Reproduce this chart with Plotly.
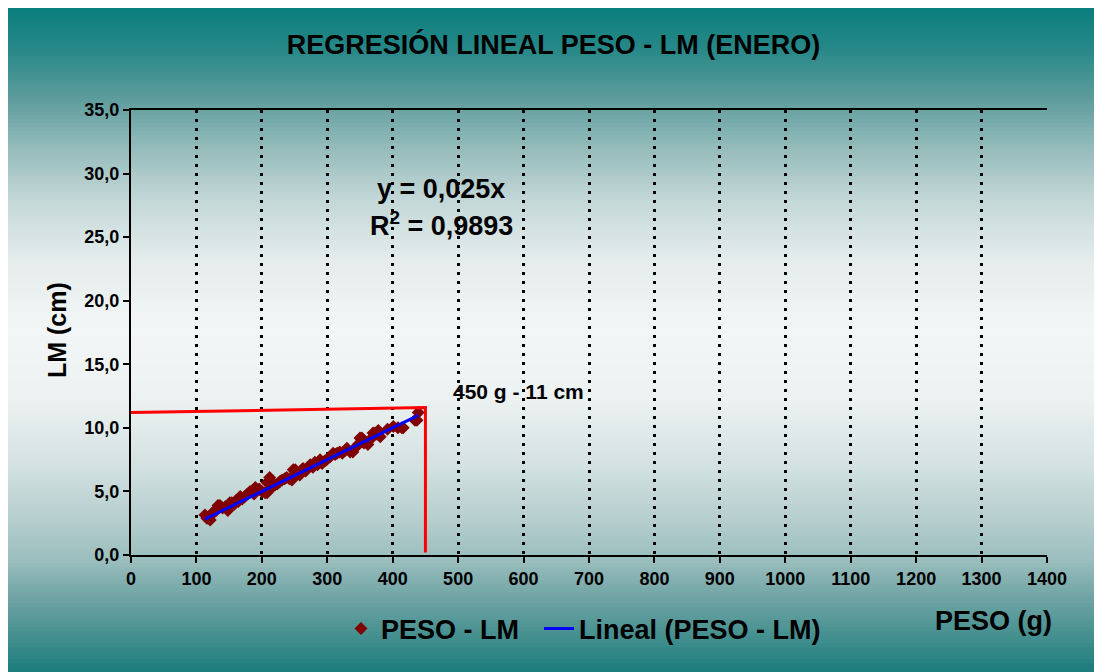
import plotly.graph_objects as go

# ---------------- data ----------------
peso = [113, 116, 118, 121, 124, 126, 130, 133, 136, 140, 144, 148, 151, 154, 158, 161,
        164, 167, 170, 174, 178, 182, 185, 188, 190, 192, 196, 200, 205, 208, 208, 212,
        215, 217, 220, 224, 228, 231, 235, 238, 242, 246, 248, 251, 255, 258, 261, 263,
        267, 270, 274, 278, 281, 285, 289, 292, 296, 299, 304, 309, 312, 315, 319, 323,
        327, 330, 335, 339, 344, 347, 350, 353, 356, 358, 362, 366, 370, 373, 376, 378,
        381, 392, 401, 408, 414, 416, 434, 437, 439]
lm = [3.15, 2.9, 2.89, 2.75, 3.2, 3.4, 3.5, 3.9, 3.9, 3.7, 3.8, 3.5, 4.1, 4.1, 4.0, 4.3,
      4.2, 4.6, 4.4, 4.6, 4.8, 5.0, 5.0, 4.8, 5.3, 5.1, 5.2, 5.0, 4.9, 4.9, 5.7, 6.1,
      5.3, 5.4, 5.5, 5.6, 5.8, 5.9, 6.0, 6.1, 6.0, 5.9, 6.7, 6.7, 6.4, 6.3, 6.7, 6.8,
      6.6, 6.9, 7.1, 6.9, 7.3, 7.1, 7.5, 7.2, 7.4, 7.5, 7.7, 8.0, 7.9, 8.0, 8.1, 8.0,
      8.2, 8.4, 8.1, 8.1, 8.5, 8.7, 9.2, 9.2, 8.8, 8.9, 8.7, 9.1, 9.6, 9.6, 9.5, 9.8,
      9.3, 9.9, 10.1, 10.0, 10.0, 10.0, 10.6, 10.6, 11.2]
slope = 0.025
r2_text = "0,9893"

ref_x = [0, 450, 450]
ref_y = [11.2, 11.6, 0.2]

title_text = "REGRESIÓN LINEAL PESO - LM (ENERO)"
series_names = ["PESO - LM", "Lineal (PESO - LM)"]
x_ticks = list(range(0, 1401, 100))
y_ticks = [0, 5, 10, 15, 20, 25, 30, 35]

# ---------------- figure ----------------
FONT = "Liberation Sans, Arial, sans-serif"
W, H = 1094, 672
L, T = 131, 110
R = W - 1047
B = H - 555
pw, ph = W - L - R, H - T - B

def sx(px):  # screen x -> paper x
    return (px - L) / pw

def sy(py):  # screen y -> paper y
    return (H - B - py) / ph

fig = go.Figure()

trend_x = [min(peso), max(peso)]
trend_y = [slope * v for v in trend_x]

fig.add_trace(go.Scatter(
    x=peso, y=lm, mode="markers", name=series_names[0] + "\u00a0\u00a0",
    marker=dict(symbol="diamond", size=10, color="#800000"),
))
fig.add_trace(go.Scatter(
    x=trend_x, y=trend_y, mode="lines", name=series_names[1],
    line=dict(color="#0000ff", width=3),
))
fig.add_trace(go.Scatter(
    x=ref_x, y=ref_y, mode="lines", showlegend=False,
    line=dict(color="#ff0000", width=3), cliponaxis=False,
))

# background vertical gradient (styling), stops in screen px
stops = [
    (8, (10, 126, 126)), (50, (40, 136, 136)), (100, (95, 157, 157)),
    (150, (150, 188, 188)), (200, (195, 215, 215)), (260, (228, 236, 236)),
    (330, (243, 246, 246)), (400, (236, 241, 241)), (460, (214, 227, 227)),
    (520, (182, 206, 206)), (560, (155, 190, 190)), (600, (110, 163, 163)),
    (640, (65, 142, 142)), (672, (28, 124, 124)),
]

def color_at(py):
    for (y0, c0), (y1, c1) in zip(stops[:-1], stops[1:]):
        if y0 <= py <= y1:
            t = (py - y0) / (y1 - y0)
            return tuple(round(a + (b - a) * t) for a, b in zip(c0, c1))
    return stops[-1][1]

shapes = []
step = 4
py = 8
while py < H:
    y_top = py
    y_bot = min(py + step, H)
    c = color_at((y_top + y_bot) / 2)
    shapes.append(dict(
        type="rect", xref="paper", yref="paper", layer="below",
        x0=sx(8), x1=sx(W + 4),
        y0=sy(y_bot + (0.5 if y_bot < H else 4)), y1=sy(y_top - (0.5 if y_top > 8 else 0)),
        fillcolor=f"rgb({c[0]},{c[1]},{c[2]})", line=dict(width=0),
    ))
    py += step

def ann(text, x, y, size, xref="paper", yref="paper", angle=0):
    return dict(text=text, x=x, y=y, xref=xref, yref=yref, showarrow=False,
                xanchor="center", yanchor="middle", textangle=angle,
                font=dict(family=FONT, size=size, color="black", weight="bold"))

annotations = [
    ann("y = 0,025x", sx(441), sy(189), 27),
    ann("R<sup>2</sup> = " + r2_text, sx(441), sy(224), 27),
    ann("450 g - 11 cm", sx(518), sy(391), 21),
    ann("LM (cm)", sx(57), sy(330), 25, angle=-90),
    ann("PESO (g)", sx(993.5), sy(621), 27),
]

fig.update_layout(
    width=W, height=H, autosize=False,
    margin=dict(l=L, r=R, t=T, b=B, pad=0),
    paper_bgcolor="white", plot_bgcolor="rgba(0,0,0,0)",
    separators=", ",
    font=dict(family=FONT, color="black"),
    title=dict(text=title_text, x=553.5 / W, xanchor="center",
               y=1 - 45 / H, yanchor="middle",
               font=dict(family=FONT, size=27, color="black", weight="bold")),
    showlegend=True,
    legend=dict(orientation="h", x=sx(341), xanchor="left", y=sy(629), yanchor="middle",
                bgcolor="rgba(0,0,0,0)", font=dict(family=FONT, size=27, color="black", weight="bold")),
    shapes=shapes,
    annotations=annotations,
    xaxis=dict(range=[0, 1400], tickmode="array", tickvals=x_ticks, ticktext=[str(v) for v in x_ticks],
               showgrid=True, gridcolor="black", gridwidth=2.5, griddash="3px,6px",
               showline=True, linecolor="black", linewidth=2, mirror=True,
               ticks="outside", ticklen=6, tickcolor="black", tickwidth=1.5,
               tickfont=dict(family=FONT, size=18, color="black", weight="bold"),
               zeroline=False, fixedrange=True),
    yaxis=dict(range=[0, 35], tickmode="array", tickvals=y_ticks, tickformat=".1f",
               showgrid=False, showline=True, linecolor="black", linewidth=2,
               ticks="outside", ticklen=6, tickcolor="black", tickwidth=1.5,
               tickfont=dict(family=FONT, size=18, color="black", weight="bold"),
               zeroline=False, fixedrange=True),
)

fig.write_html(
    "out.html",
    config={"displayModeBar": False},
    post_script="document.body.style.margin='0';document.documentElement.style.overflow='hidden';",
)
